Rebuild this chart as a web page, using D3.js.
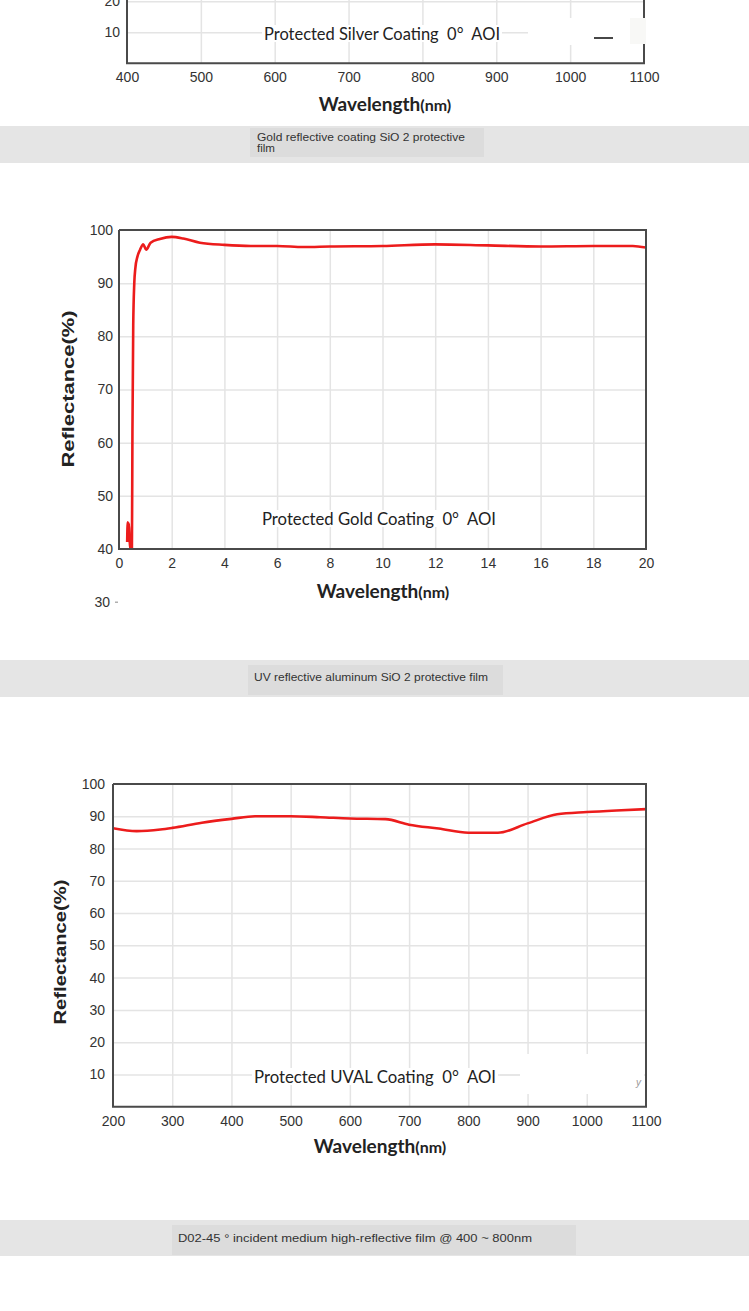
<!DOCTYPE html>
<html>
<head>
<meta charset="utf-8">
<script src="https://cdn.jsdelivr.net/npm/d3@7"></script>
<style>
	body { margin: 0; background: #fff; }
	svg { display: block; }
	.grid line { stroke: #e4e4e4; stroke-width: 1.5; }
	.grid path { display: none; }
	.ticks path, .ticks line { display: none; }
	.ticks text { font-family: "Liberation Sans", Arial, sans-serif; font-size: 14px; fill: #333; }
	.frame { fill: none; stroke: #4a4a4a; stroke-width: 2; }
	.curve { fill: none; stroke: #ec1c1c; stroke-width: 2.6; stroke-linejoin: round; }
	.title { font-family: Lato, "Open Sans", sans-serif; font-size: 17px; fill: #222; white-space: pre; }
	.xlabel { font-family: Lato, "Open Sans", sans-serif; font-weight: bold; fill: #222; }
	.ylabel { font-family: "Liberation Sans", Arial, sans-serif; font-weight: bold; font-size: 17px; fill: #222; }
	.band text { font-family: "Liberation Sans", Arial, sans-serif; font-size: 11.5px; fill: #333; }
</style>
</head>
<body>
<svg id="page" width="749" height="1311"></svg>
<script>
// silver coating chart (only its lower edge is visible)
const silverTicksX = [400, 500, 600, 700, 800, 900, 1000, 1100];
const silverTicksY = [10, 20];

// gold coating chart
const goldTicksX = [0, 2, 4, 6, 8, 10, 12, 14, 16, 18, 20];
const goldTicksY = [40, 50, 60, 70, 80, 90, 100];
const goldWavelength = [0.31, 0.33, 0.355, 0.375, 0.40, 0.43, 0.47, 0.49, 0.51, 0.54, 0.58, 0.62, 0.70, 0.80, 0.92, 1.03, 1.20, 1.55, 2.0, 2.44, 3.07, 4.0, 5.0, 6.0, 7.0, 8.0, 10.0, 12.0, 14.0, 16.0, 18.0, 19.5, 20.0];
const goldReflectance = [41.3, 45.0, 43.3, 44.8, 42.0, 40.0, 40.0, 40.0, 62.0, 82.0, 90.0, 92.8, 95.0, 96.3, 97.3, 96.3, 97.6, 98.3, 98.7, 98.4, 97.6, 97.2, 97.0, 97.0, 96.8, 96.9, 97.0, 97.3, 97.1, 96.9, 97.0, 97.0, 96.7];

// UV aluminium chart
const uvalTicksX = [200, 300, 400, 500, 600, 700, 800, 900, 1000, 1100];
const uvalTicksY = [10, 20, 30, 40, 50, 60, 70, 80, 90, 100];
const uvalWavelength = [200, 240, 280, 300, 350, 400, 440, 500, 550, 600, 660, 700, 750, 800, 850, 900, 950, 1000, 1050, 1100];
const uvalReflectance = [86.3, 85.4, 85.9, 86.4, 88.0, 89.2, 90.0, 90.0, 89.7, 89.3, 89.1, 87.4, 86.2, 84.9, 84.9, 87.8, 90.6, 91.3, 91.8, 92.2];

const silverTitle = "Protected Silver Coating  0°  AOI";
const goldTitle = "Protected Gold Coating  0°  AOI";
const uvalTitle = "Protected UVAL Coating  0°  AOI";
const bandLines = [
	["Gold reflective coating SiO 2 protective", "film"],
	["UV reflective aluminum SiO 2 protective film"],
	["D02-45 ° incident medium high-reflective film @ 400 ~ 800nm"]
];

const svg = d3.select("#page");

function drawPanel(p) {
	const g = svg.append("g");
	const x = d3.scaleLinear().domain(p.xDomain).range([p.left, p.right]);
	const y = d3.scaleLinear().domain(p.yDomain).range([p.bottom, p.top]);

	g.append("clipPath").attr("id", p.id + "-clip")
	 .append("rect")
	 .attr("x", p.left).attr("y", p.frameTop)
	 .attr("width", p.right - p.left).attr("height", p.bottom - p.frameTop);

	// grid
	g.append("g").attr("class", "grid")
	 .attr("transform", `translate(0,${p.bottom})`)
	 .call(d3.axisBottom(x).tickValues(p.xTicks.slice(1, -1))
	 		.tickSize(-(p.bottom - p.frameTop)).tickFormat(""));
	g.append("g").attr("class", "grid")
	 .attr("transform", `translate(${p.left},0)`)
	 .call(d3.axisLeft(y).tickValues(p.yTicks.filter(v => y(v) > p.frameTop + 2 && y(v) < p.bottom - 2))
	 		.tickSize(-(p.right - p.left)).tickFormat(""));

	// tick labels
	g.append("g").attr("class", "ticks")
	 .attr("transform", `translate(0,${p.bottom})`)
	 .call(d3.axisBottom(x).tickValues(p.xTicks).tickSize(0).tickPadding(9).tickFormat(d => d));
	g.append("g").attr("class", "ticks yticks")
	 .attr("transform", `translate(${p.left},0)`)
	 .call(d3.axisLeft(y).tickValues(p.yLabels || p.yTicks).tickSize(0).tickPadding(p.yPad).tickFormat(d => d));

	// title with white background
	const t = g.append("text").attr("class", "title")
			   .attr("x", p.titleX).attr("y", p.titleY)
			   .attr("textLength", p.titleW).attr("lengthAdjust", "spacingAndGlyphs")
			   .text(p.title);
	const bb = t.node().getBBox();
	g.insert("rect", "text.title")
	 .attr("x", bb.x - 2).attr("y", bb.y + 2)
	 .attr("width", bb.width + 4).attr("height", bb.height - 4)
	 .attr("fill", "#fff");

	if (p.wavelength) {
		const line = d3.line()
					   .x((d, i) => x(p.wavelength[i]))
					   .y(d => y(d))
					   .curve(d3.curveMonotoneX);
		g.append("path").attr("class", "curve")
		 .attr("clip-path", `url(#${p.id}-clip)`)
		 .attr("d", line(p.reflectance));
	}

	// frame
	g.append("path").attr("class", "frame")
	 .attr("d", `M${p.left},${p.frameTop}V${p.bottom}H${p.right}V${p.frameTop}` + (p.frameTop > 0 ? `H${p.left}` : ""));

	// axis titles
	const xl = g.append("text").attr("class", "xlabel")
				.attr("x", p.xlabelX).attr("y", p.xlabelY)
				.attr("text-anchor", "middle");
	xl.append("tspan").attr("font-size", 19).text("Wavelength");
	xl.append("tspan").attr("font-size", 16).text("(nm)");

	if (p.ylabelX) {
		g.append("text").attr("class", "ylabel")
		 .attr("transform", `translate(${p.ylabelX},${p.ylabelY}) rotate(-90)`)
		 .attr("text-anchor", "middle")
		 .attr("textLength", p.ylabelW).attr("lengthAdjust", "spacingAndGlyphs")
		 .text("Reflectance(%)");
	}
	return { g, x, y };
}

// silver
const silver = drawPanel({
	id: "silver", xDomain: [400, 1100], yDomain: [0, 20],
	left: 127, right: 644, bottom: 63.3, top: 1.3, frameTop: -4,
	xTicks: silverTicksX, yTicks: silverTicksY, yPad: 7,
	title: silverTitle, titleX: 264, titleY: 40, titleW: 236,
	xlabelX: 385, xlabelY: 111
});
silver.g.append("rect").attr("x", 528).attr("y", 18).attr("width", 104).attr("height", 27).attr("fill", "#fff");
silver.g.append("rect").attr("x", 630).attr("y", 18).attr("width", 16).attr("height", 26).attr("fill", "#f8f8f6");
silver.g.append("line").attr("x1", 594).attr("x2", 613).attr("y1", 38).attr("y2", 38)
		.attr("stroke", "#333").attr("stroke-width", 1.8);

// gold
const gold = drawPanel({
	id: "gold", xDomain: [0, 20], yDomain: [40, 100],
	left: 119, right: 646, bottom: 549, top: 230, frameTop: 230,
	xTicks: goldTicksX, yTicks: goldTicksY, yPad: 6,
	yLabels: [30].concat(goldTicksY),
	wavelength: goldWavelength, reflectance: goldReflectance,
	title: goldTitle, titleX: 262, titleY: 525, titleW: 234,
	xlabelX: 383, xlabelY: 598,
	ylabelX: 74, ylabelY: 389, ylabelW: 157
});
gold.g.append("line").attr("x1", 115).attr("x2", 118)
		.attr("y1", gold.y(30)).attr("y2", gold.y(30))
		.attr("stroke", "#888").attr("stroke-width", 1);
gold.g.select(".yticks").selectAll(".tick")
		.filter(d => d === 30).attr("transform", `translate(-3,${gold.y(30)})`);

// UV aluminium
drawPanel({
	id: "uval", xDomain: [200, 1100], yDomain: [0, 100],
	left: 113, right: 646, bottom: 1106.7, top: 784, frameTop: 784,
	xTicks: uvalTicksX, yTicks: uvalTicksY, yPad: 8,
	wavelength: uvalWavelength, reflectance: uvalReflectance,
	title: uvalTitle, titleX: 254, titleY: 1083, titleW: 242,
	xlabelX: 380, xlabelY: 1153,
	ylabelX: 66, ylabelY: 952, ylabelW: 145
});
svg.append("rect").attr("x", 520).attr("y", 1054).attr("width", 124).attr("height", 40).attr("fill", "#fff");
svg.append("line").attr("x1", 500).attr("x2", 520).attr("y1", 1075).attr("y2", 1075)
	.attr("stroke", "#e4e4e4").attr("stroke-width", 1.5);
svg.append("text").attr("x", 636).attr("y", 1086).attr("font-size", 10)
	.attr("font-style", "italic").attr("fill", "#999").attr("font-family", "Liberation Sans").text("y");

// grey caption bands
const bands = [
	{ top: 126, h: 37, boxX: 250, boxY: 128, boxW: 234, boxH: 29, textX: 257, baseY: 141, widths: [208, 18] },
	{ top: 660, h: 37, boxX: 248, boxY: 665, boxW: 255, boxH: 30, textX: 254, baseY: 681, widths: [234] },
	{ top: 1220, h: 36, boxX: 172, boxY: 1225, boxW: 404, boxH: 30, textX: 178, baseY: 1242, widths: [354] }
];
bands.forEach((b, i) => {
	const g = svg.append("g").attr("class", "band");
	g.append("rect").attr("x", 0).attr("y", b.top).attr("width", 749).attr("height", b.h).attr("fill", "#e5e5e5");
	g.append("rect").attr("x", b.boxX).attr("y", b.boxY).attr("width", b.boxW).attr("height", b.boxH).attr("fill", "#dcdcdc");
	bandLines[i].forEach((s, j) => {
		g.append("text").attr("x", b.textX).attr("y", b.baseY + j * 11)
		 .attr("textLength", b.widths[j]).attr("lengthAdjust", "spacingAndGlyphs")
		 .text(s);
	});
});
</script>
</body>
</html>
